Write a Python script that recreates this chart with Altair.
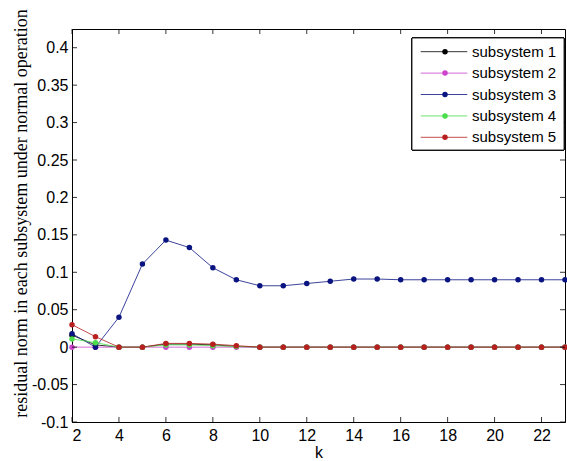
import altair as alt
import pandas as pd

k = list(range(2, 24))
names = ["subsystem 1", "subsystem 2", "subsystem 3", "subsystem 4", "subsystem 5"]
colors = ["#000000", "#cc44cc", "#0a1480", "#4cdd4c", "#b82020"]

s1 = [0.016, 0.003, 0.0, 0.0, 0.004, 0.004, 0.003, 0.001, 0, 0, 0, 0, 0, 0, 0, 0, 0, 0, 0, 0, 0, 0]
s2 = [0.0] * 22
s3 = [0.018, 0.0, 0.040, 0.111, 0.143, 0.133, 0.106, 0.090, 0.082, 0.082, 0.085, 0.088,
      0.091, 0.091, 0.090, 0.090, 0.090, 0.090, 0.090, 0.090, 0.090, 0.090]
s4 = [0.011, 0.006, 0.0, 0.0, 0.003, 0.003, 0.002, 0.001, 0, 0, 0, 0, 0, 0, 0, 0, 0, 0, 0, 0, 0, 0]
s5 = [0.030, 0.014, 0.0, 0.0, 0.005, 0.005, 0.004, 0.002, 0, 0, 0, 0, 0, 0, 0, 0, 0, 0, 0, 0, 0, 0]
series = [s1, s2, s3, s4, s5]

x_ticks = [2, 4, 6, 8, 10, 12, 14, 16, 18, 20, 22]
y_ticks = [-0.1, -0.05, 0, 0.05, 0.1, 0.15, 0.2, 0.25, 0.3, 0.35, 0.4]

W, H = 493, 393
xscale = alt.Scale(domain=[2, 23], nice=False, zero=False)
yscale = alt.Scale(domain=[-0.1, 0.425], nice=False, zero=False)
cscale = alt.Scale(domain=names, range=colors)

xaxis = alt.Axis(values=x_ticks, ticks=False, grid=False, labelPadding=5,
                 labelFont="Liberation Sans", labelFontSize=16, labelColor="#000",
                 titleFont="Liberation Sans", titleFontSize=16, titleFontWeight="normal",
                 titleColor="#000", titleBaseline="alphabetic", titleY=35,
                 domainColor="#000")
yaxis = alt.Axis(values=y_ticks, ticks=False, grid=False, labelPadding=4,
                 labelExpr="replace(format(datum.value, '~g'), '\u2212', '-')",
                 labelFont="Liberation Sans", labelFontSize=16, labelColor="#000",
                 titleFont="Liberation Serif", titleFontSize=18, titleFontWeight="normal",
                 titleColor="#000", titleAngle=-90, titleBaseline="alphabetic",
                 titleAlign="center", titleX=-46, titleY=184,
                 domainColor="#000")


def X(field="k:Q"):
    return alt.X(field, scale=xscale, title="k", axis=xaxis)


layers = []
for i, (nm, vals) in enumerate(zip(names, series)):
    df = pd.DataFrame({"k": k, "v": vals, "s": nm})
    base = alt.Chart(df)
    if i == 0:
        yenc = alt.Y("v:Q", scale=yscale, title="residual norm in each subsystem under normal operation",
                     axis=yaxis)
    else:
        yenc = alt.Y("v:Q", scale=yscale, axis=None)
    line = base.mark_line(strokeWidth=0.8).encode(
        x=X(), y=yenc, color=alt.Color("s:N", scale=cscale, legend=None))
    pts = base.mark_circle(size=30, opacity=1).encode(
        x=X(), y=alt.Y("v:Q", scale=yscale, axis=None),
        color=alt.Color("s:N", scale=cscale, legend=None))
    layers += [line, pts]

# inward ticks
ydf = pd.DataFrame({"v": y_ticks})
xdf = pd.DataFrame({"k": x_ticks})
tick_style = dict(color="#000", strokeWidth=0.8)
yt_l = alt.Chart(ydf).mark_rule(**tick_style).encode(
    y=alt.Y("v:Q", scale=yscale, axis=None), x=alt.value(0), x2=alt.value(5))
yt_r = alt.Chart(ydf).mark_rule(**tick_style).encode(
    y=alt.Y("v:Q", scale=yscale, axis=None), x=alt.value(W - 5), x2=alt.value(W))
xt_b = alt.Chart(xdf).mark_rule(**tick_style).encode(
    x=X(), y=alt.value(H - 5), y2=alt.value(H))
xt_t = alt.Chart(xdf).mark_rule(**tick_style).encode(
    x=X(), y=alt.value(0), y2=alt.value(5))
layers += [yt_l, yt_r, xt_b, xt_t]

# legend
leg_df = pd.DataFrame({"s": names})
lscale = alt.Scale(type="point", domain=names, range=[22.7, 108.3], padding=0)
box = alt.Chart(leg_df).mark_rect(fill="white", stroke="#000", strokeWidth=0.8).encode(
    x=alt.value(340), x2=alt.value(492), y=alt.value(9), y2=alt.value(121))
leg_line = alt.Chart(leg_df).mark_rule(strokeWidth=0.8).encode(
    x=alt.value(348.7), x2=alt.value(395.3),
    y=alt.Y("s:N", scale=lscale, axis=None),
    color=alt.Color("s:N", scale=cscale, legend=None))
leg_pt = alt.Chart(leg_df).mark_circle(size=30, opacity=1).encode(
    x=alt.value(373), y=alt.Y("s:N", scale=lscale, axis=None),
    color=alt.Color("s:N", scale=cscale, legend=None))
leg_txt = alt.Chart(leg_df).mark_text(align="left", baseline="middle", font="Liberation Sans",
                                      fontSize=15, color="#000").encode(
    x=alt.value(400), y=alt.Y("s:N", scale=lscale, axis=None), text="s:N")
layers += [box, leg_line, leg_pt, leg_txt]

chart = alt.layer(*layers).resolve_scale(y="independent").properties(
    width=W, height=H,
    padding={"left": 72, "top": 29, "right": 2, "bottom": 39},
    autosize=alt.AutoSizeParams(type="none"),
    background="white",
).configure_view(stroke="#000", strokeWidth=1)

chart.save("out.html", embed_options={"renderer": "svg", "actions": False})
